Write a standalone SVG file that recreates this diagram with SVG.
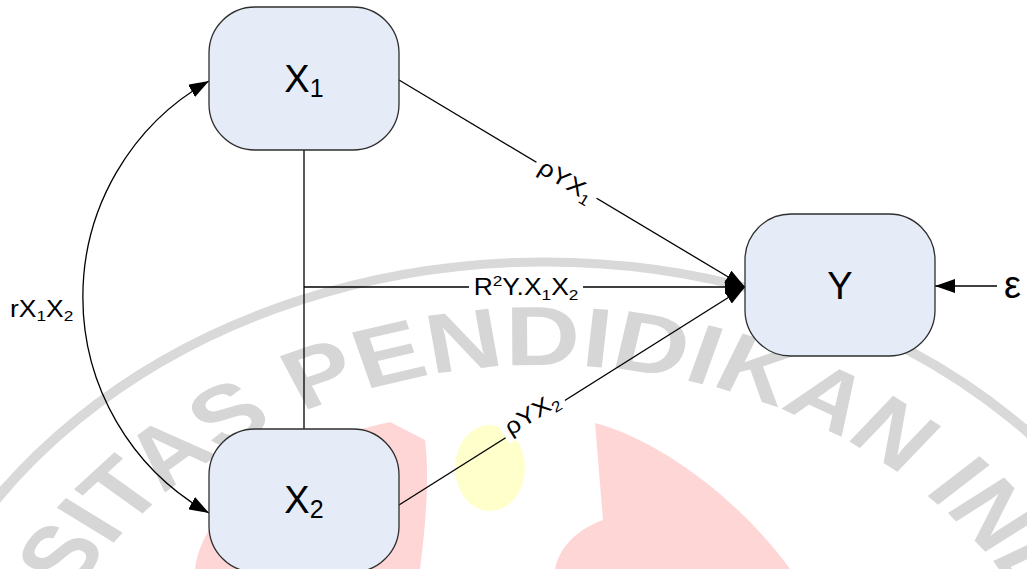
<svg xmlns="http://www.w3.org/2000/svg" width="1027" height="569" viewBox="0 0 1027 569">
  <defs>
    <marker id="arrow" viewBox="0 0 20 14" refX="20" refY="7" markerWidth="20" markerHeight="14" markerUnits="userSpaceOnUse" orient="auto-start-reverse">
      <path d="M0,0 L20,7 L0,14 z" fill="#000"/>
    </marker>
    <path id="wm-ring-path" d="M0,435 A435,435 0 1 1 0,-435 A435,435 0 1 1 0,435"/>
  </defs>
  <style>
    .node rect { fill: #e5ecf7; stroke: #2e2e2e; stroke-width: 1.3; }
    .node text { font-family: "Liberation Sans", Arial, sans-serif; font-size: 38px; fill: #000; text-anchor: middle; }
    .conn { fill: none; stroke: #000; stroke-width: 1.3; }
    .lbl { font-family: "Liberation Sans", Arial, sans-serif; font-size: 23px; fill: #000; }
    .eps { font-family: "Liberation Sans", Arial, sans-serif; font-size: 38px; fill: #000; }
    .lbl-bg { fill: #fff; }
    .wm-text { font-family: "Liberation Sans", Arial, sans-serif; font-weight: bold; font-size: 84px; fill: #d6d6d6; }
  </style>

  <rect width="1027" height="569" fill="#fff"/>

  <!-- faint seal in the background -->
  <g id="watermark">
    <ellipse cx="490" cy="468" rx="35" ry="43" fill="#ffffcc"/>
    <path d="M595,423 C660,440 740,500 790,569 L555,569 C560,545 580,528 603,520 Z" fill="#ffd6d6"/>
    <path d="M195,569 C200,520 260,450 390,422 L425,440 C430,480 425,530 420,569 Z" fill="#ffd6d6"/>
    <g transform="translate(545,800) scale(1.23,1)">
      <circle r="538" fill="none" stroke="#d9d9d9" stroke-width="9"/>
      <text class="wm-text"><textPath href="#wm-ring-path" startOffset="50.3%" text-anchor="middle">SITAS PENDIDIKAN IND</textPath></text>
    </g>
  </g>

  <g id="connectors">
    <path class="conn" d="M304,150 L304,429"/>
    <path class="conn" d="M304,287 L745,287" marker-end="url(#arrow)"/>
    <path class="conn" d="M399,80 L745,287" marker-end="url(#arrow)"/>
    <path class="conn" d="M399,505 L745,287" marker-end="url(#arrow)"/>
    <path class="conn" d="M997,286 L935,286" marker-end="url(#arrow)"/>
    <path class="conn" d="M209,81 A248,248 0 0 0 209,513" marker-start="url(#arrow)" marker-end="url(#arrow)"/>

    <!-- path labels -->
    <g transform="translate(566,181) rotate(30.9)">
      <rect class="lbl-bg" x="-35" y="-14" width="70" height="27"/>
      <text class="lbl" transform="scale(1.15,1)" text-anchor="middle" y="7">ρYX<tspan dy="5" font-size="15">1</tspan></text>
    </g>
    <g transform="translate(532,414) rotate(-32.2)">
      <rect class="lbl-bg" x="-35" y="-14" width="70" height="27"/>
      <text class="lbl" transform="scale(1.15,1)" text-anchor="middle" y="7">ρYX<tspan dy="5" font-size="15">2</tspan></text>
    </g>
    <rect class="lbl-bg" x="469" y="274" width="114" height="26"/>
    <text class="lbl" transform="translate(526,295) scale(1.15,1)" text-anchor="middle">R<tspan dy="-9" font-size="15">2</tspan><tspan dy="9">Y.X</tspan><tspan dy="5" font-size="15">1</tspan><tspan dy="-5">X</tspan><tspan dy="5" font-size="15">2</tspan></text>
    <text class="lbl" transform="translate(10,317) scale(1.15,1)">rX<tspan dy="4" font-size="15">1</tspan><tspan dy="-4">X</tspan><tspan dy="4" font-size="15">2</tspan></text>
    <text class="eps" x="1004" y="298">ε</text>
  </g>

  <g id="node-x1" class="node">
    <rect x="209" y="7" width="190" height="143" rx="46" ry="46"/>
    <text x="304" y="92">X<tspan dy="5" font-size="25">1</tspan></text>
  </g>
  <g id="node-x2" class="node">
    <rect x="209" y="429" width="190" height="143" rx="46" ry="46"/>
    <text x="304" y="513">X<tspan dy="5" font-size="25">2</tspan></text>
  </g>
  <g id="node-y" class="node">
    <rect x="745" y="214" width="190" height="142" rx="46" ry="46"/>
    <text x="840" y="299">Y</text>
  </g>
</svg>
